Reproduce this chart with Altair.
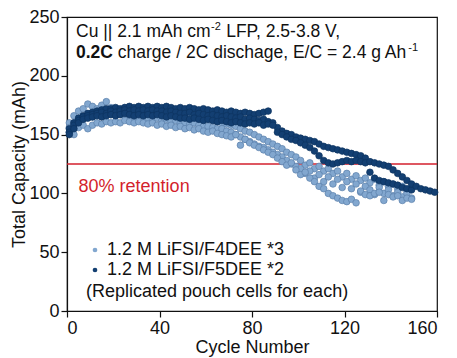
import altair as alt
import pandas as pd

# ---------------- data ----------------
series_names = ["1.2 M LiFSI/F4DEE *3", "1.2 M LiFSI/F5DEE *2"]
cycle_step = 2  # one value every 2 cycles, starting at cycle 1

# F4DEE cells (light blue)
f4_cell_a = [160, 166, 170, 172, 176, 174, 172, 175, 178, 173,
             172, 170, 173, 171, 170, 171, 169, 170, 168, 169,
             168, 167, 168, 166, 167, 165, 166, 164, 165, 163,
             163, 162, 161, 160, 159, 158, 157, 155, 153, 152,
             150, 148, 146, 144, 142, 140, 138, 135, 133, 131,
             128, 124, 126, 121, 123, 119, 121, 117, 119, 114,
             117, 112, 115, 111, 113, 109, 112, 107, 110, 106,
             108, 104, 106, 102, 104]
f4_cell_b = [156, 160, 163, 165, 166, 165, 167, 166, 168, 167,
             166, 167, 165, 166, 165, 164, 165, 164, 163, 164,
             162, 163, 161, 162, 160, 160, 159, 160, 158, 157,
             157, 156, 155, 155, 153, 152, 150, 148, 146, 144,
             142, 140, 139, 137, 135, 133, 131, 128, 125, 123,
             121, 117, 119, 113, 116, 110, 114, 108, 112, 105,
             110, 104, 108, 101, 106, 103, 99, 105, 100, 103,
             98, 101, 97, 100, 96]
f4_cell_c = [152, 150, 156, 158, 155, 158, 160, 159, 161, 160,
             161, 160, 162, 161, 160, 161, 160, 159, 160, 158,
             159, 157, 158, 156, 157, 155, 156, 154, 155, 153,
             152, 153, 151, 150, 149, 148, 150, 141, 146, 143,
             141, 139, 137, 135, 133, 130, 127, 124, 126, 120,
             116, 118, 113, 110, 106, 104, 100, 98, 96, 94,
             93, 95, 92, 102, 99, 98, 100, 101, 94, 99,
             97, 98, 94, 96, 95]

# F5DEE cells (dark navy)
f5_cell_a = [155, 160, 164, 166, 168, 169, 170, 171, 172, 172,
             173, 172, 173, 174, 173, 174, 173, 174, 173, 174,
             173, 174, 173, 172, 173, 172, 173, 172, 171, 172,
             171, 170, 171, 170, 169, 170, 169, 168, 169, 168,
             167, 168, 169, 170]
f5_cell_b = [152, 158, 162, 165, 166, 167, 168, 169, 168, 170,
             169, 170, 171, 170, 171, 170, 171, 170, 171, 170,
             170, 169, 170, 169, 168, 168, 169, 167, 168, 167,
             166, 167, 166, 165, 166, 165, 164, 165, 163, 164,
             163, 162, 163, 161, 160, 156, 153, 151, 150, 148,
             147, 146, 145, 144, 142, 140, 139, 138, 137, 136,
             135, 134, 133, 132, 130, 118, 113, 111, 110, 109,
             108, 107, 105, 104, 103]
f5_cell_c = [150, 155, 160, 163, 164, 165, 166, 165, 166, 167,
             166, 167, 168, 167, 166, 167, 166, 167, 166, 167,
             166, 165, 166, 165, 164, 164, 163, 164, 163, 162,
             163, 162, 161, 162, 161, 160, 161, 160, 159, 160,
             159, 160, 158, 159, 158, 152, 150, 148, 146, 145,
             143, 141, 139, 136, 132, 128, 126, 125, 126, 127,
             128, 127, 128, 127, 126, 127, 126, 125, 124, 123,
             120, 117, 114, 111, 108, 106, 104, 103, 102, 101]

retention_value = [125]
retention_label = ["80% retention"]
retention_label_pos = [5, 101.5]
x_ticks = [0, 40, 80, 120, 160]
y_ticks = [0, 50, 100, 150, 200, 250]

light_fill, light_edge = "#82a7cf", "#5a80ab"
dark_fill, dark_edge = "#133f72", "#0d3360"
red = "#d31f2c"
FONT = "Liberation Sans"

# ---------------- table ----------------
rows = []
cells = [(series_names[0], f4_cell_a), (series_names[0], f4_cell_b), (series_names[0], f4_cell_c),
         (series_names[1], f5_cell_a), (series_names[1], f5_cell_b), (series_names[1], f5_cell_c)]
k = 0
for name, vals in cells:
    for i, v in enumerate(vals):
        rows.append({"cycle": 1 + cycle_step * i, "cap": v, "series": name, "idx": k})
        k += 1
df = pd.DataFrame(rows)

PAD_L, PAD_T = 59, 9
W, H = 370, 294
PAD_R = 457 - 16 - PAD_L - W
PAD_B = 358 - 8 - PAD_T - H

x_enc = alt.X("cycle:Q", scale=alt.Scale(domain=[0, 160], nice=False),
              axis=alt.Axis(values=x_ticks, title="Cycle Number", grid=False,
                            tickSize=6, labelPadding=2, titlePadding=1,
                            labelFontSize=18, titleFontSize=18))
y_enc = alt.Y("cap:Q", scale=alt.Scale(domain=[0, 250], nice=False),
              axis=alt.Axis(values=y_ticks, title="Total Capacity (mAh)", grid=False,
                            tickSize=6, labelPadding=2, titlePadding=0,
                            labelFontSize=18, titleFontSize=18))

points = alt.Chart(df).mark_circle(size=44, opacity=1, strokeWidth=0.7).encode(
    x=x_enc, y=y_enc,
    color=alt.Color("series:N",
                    scale=alt.Scale(domain=series_names, range=[light_fill, dark_fill]),
                    legend=alt.Legend(title="(Replicated pouch cells for each)",
                                      titleOrient="bottom", titleAnchor="start",
                                      titleFontSize=18, titleFontWeight="normal",
                                      titleColor="#111", titlePadding=4, titleLimit=0,
                                      labelFontSize=18, labelColor="#111", labelLimit=0,
                                      labelOffset=3, symbolSize=22, symbolType="circle",
                                      symbolStrokeWidth=0, rowPadding=2, padding=0,
                                      orient="none", legendX=19, legendY=224)),
    stroke=alt.Stroke("series:N",
                      scale=alt.Scale(domain=series_names, range=[light_edge, dark_edge]),
                      legend=None),
    order=alt.Order("idx:Q"),
)

rule_df = pd.DataFrame({"v": retention_value})
rule = alt.Chart(rule_df).mark_rule(color=red, strokeWidth=1.3).encode(y="v:Q")

lab_df = pd.DataFrame({"t": retention_label, "x": [retention_label_pos[0]], "y": [retention_label_pos[1]]})
lab = alt.Chart(lab_df).mark_text(color=red, fontSize=18, align="left", baseline="alphabetic",
                                  font=FONT).encode(x="x:Q", y="y:Q", text="t:N")

# ---------------- header annotation ----------------
FS = 17.5
SUP = 11
SP = 0.278 * FS
x0, y1, y2 = 9, 19.5, 40.5
w_cu = 7.689 * FS
w_sup2 = 0.889 * SUP + 1
w_bold = 2.112 * FS
w_line2 = 16.539 * FS

def txt(s, x, y, size=FS, weight="normal"):
    return alt.Chart(pd.DataFrame({"t": [s]})).mark_text(
        align="left", baseline="alphabetic", fontSize=size, fontWeight=weight,
        font=FONT, color="#111").encode(x=alt.value(x), y=alt.value(y), text="t:N")

header = [
    txt("Cu || 2.1 mAh cm", x0, y1),
    txt("-2", x0 + w_cu + 0.5, y1 - 6.5, SUP),
    txt("LFP, 2.5-3.8 V,", x0 + w_cu + w_sup2 + SP, y1),
    txt("0.2C", x0, y2, FS, "bold"),
    txt("charge / 2C dischage, E/C = 2.4 g Ah", x0 + w_bold + SP, y2),
    txt("-1", x0 + w_bold + SP + w_line2 + 1, y2 - 6.5, SUP),
]

chart = alt.layer(rule, points, lab, *header).properties(
    width=W, height=H,
    autosize=alt.AutoSizeParams(type="none"),
    padding={"left": PAD_L, "top": PAD_T, "right": PAD_R, "bottom": PAD_B}
).configure_view(stroke="#111", strokeWidth=1.2).configure_axis(
    domainColor="#111", domainWidth=1.2, tickColor="#111", tickWidth=1.2,
    labelColor="#111", titleColor="#111", labelFont=FONT, titleFont=FONT,
    titleFontWeight="normal"
).configure_legend(labelFont=FONT, titleFont=FONT).configure_text(font=FONT)

chart.save("out.html", embed_options={"renderer": "svg", "actions": False})
